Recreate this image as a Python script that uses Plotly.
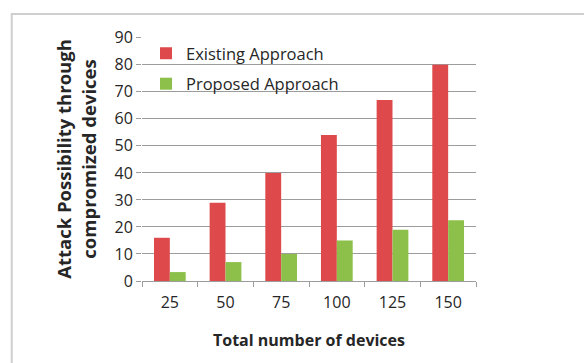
import plotly.graph_objects as go

# Total number of devices on the network
devices = ["25", "50", "75", "100", "125", "150"]
# Attack possibility through compromised devices
existing = [16, 29, 40, 54, 67, 80]
proposed = [3.3, 7, 10, 15, 19, 22.5]

y_ticks = [0, 10, 20, 30, 40, 50, 60, 70, 80, 90]

RED = "#DE4A4B"
GREEN = "#8CC04A"
GRID = "#9c9c9c"
FONT = "Open Sans"
TEXT = "#262626"

fig = go.Figure()
fig.add_trace(go.Bar(x=devices, y=existing, name="Existing Approach",
                     marker=dict(color=RED, line=dict(width=0)),
                     legendgroup="a"))
fig.add_trace(go.Bar(x=devices, y=proposed, name="Proposed Approach",
                     marker=dict(color=GREEN, line=dict(width=0)),
                     legendgroup="b"))

fig.update_layout(
    width=584, height=363,
    margin=dict(l=142, r=108, t=37, b=82, autoexpand=False),
    paper_bgcolor="white", plot_bgcolor="white",
    font=dict(family=FONT, size=14, color=TEXT),
    barmode="group", bargap=0.43, bargroupgap=0,
    showlegend=True,
    legend=dict(x=0.012, y=1.004, xanchor="left", yanchor="top",
                bgcolor="rgba(0,0,0,0)", borderwidth=0,
                traceorder="grouped", tracegroupgap=6,
                font=dict(family=FONT, size=16.5, color=TEXT)),
    xaxis=dict(
        type="category",
        showline=True, linecolor=GRID, linewidth=1,
        ticks="outside", tickson="boundaries", ticklen=5,
        tickcolor=GRID, tickwidth=1,
        showgrid=False,
        ticklabelstandoff=7,
        tickfont=dict(family=FONT, size=16, color=TEXT),
        title=dict(text="<b>Total number of devices</b>", standoff=22,
                   font=dict(family=FONT, size=16, color=TEXT)),
    ),
    yaxis=dict(
        range=[0, 90.3], tickvals=y_ticks,
        showgrid=True, gridcolor=GRID, gridwidth=1,
        zeroline=False, showline=False,
        ticks="outside", ticklen=5, tickcolor=GRID, tickwidth=1,
        tickfont=dict(family=FONT, size=16, color=TEXT),
        title=dict(text="<b>Attack Possibility through<br>compromized devices</b>",
                   standoff=13,
                   font=dict(family=FONT, size=18.5, color=TEXT)),
    ),
    shapes=[dict(type="rect", xref="paper", yref="paper",
                 x0=-0.39, x1=1.6, y0=-0.6, y1=1.094,
                 line=dict(color="#cfcfcf", width=2),
                 fillcolor="rgba(0,0,0,0)", layer="below")],
)

fig.write_html("out.html")
